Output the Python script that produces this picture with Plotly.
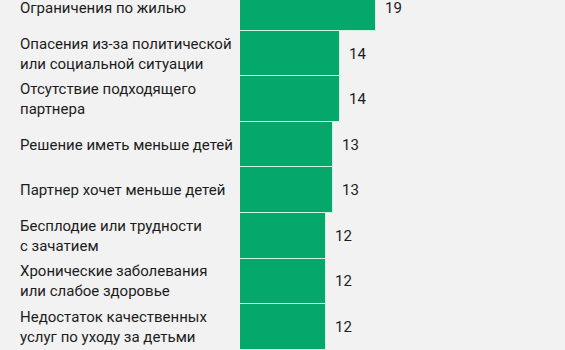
import plotly.graph_objects as go

categories = [
    "Ограничения по жилью",
    "Опасения из-за политической<br>или социальной ситуации",
    "Отсутствие подходящего<br>партнера",
    "Решение иметь меньше детей",
    "Партнер хочет меньше детей",
    "Бесплодие или трудности<br>с зачатием",
    "Хронические заболевания<br>или слабое здоровье",
    "Недостаток качественных<br>услуг по уходу за детьми",
]
values = [19, 14, 14, 13, 13, 12, 12, 12]
value_labels = ["19", "14", "14", "13", "13", "12", "12", "12"]

BG = "#f2f2f2"
BAR = "#03a86a"
TXT = "#1c1c1c"
FONT = "Roboto, sans-serif"

fig = go.Figure(
    go.Bar(
        x=values,
        y=categories,
        orientation="h",
        marker=dict(color=BAR, line=dict(color="#d2f3e2", width=1)),
        hoverinfo="skip",
    )
)

annotations = []
for cat, v, lab in zip(categories, values, value_labels):
    annotations.append(dict(
        x=v, y=cat, xref="x", yref="y", text=lab, showarrow=False,
        xanchor="left", yanchor="middle", xshift=7,
        font=dict(family=FONT, size=15, color=TXT),
    ))
    annotations.append(dict(
        x=-222 / 325, y=cat, xref="paper", yref="y", text=cat, showarrow=False,
        xanchor="left", yanchor="middle", align="left",
        font=dict(family=FONT, size=15, color=TXT),
    ))

fig.update_layout(
    width=565, height=350,
    margin=dict(l=240, r=0, t=0, b=0),
    paper_bgcolor=BG, plot_bgcolor=BG,
    bargap=0.0,
    showlegend=False,
    annotations=annotations,
    xaxis=dict(range=[0, 45.4], visible=False, fixedrange=True),
    yaxis=dict(range=[7.511, -0.181], showticklabels=False, showgrid=False,
               zeroline=False, showline=False, ticks="", fixedrange=True),
)

fig.write_html("out.html", config={"displayModeBar": False})
